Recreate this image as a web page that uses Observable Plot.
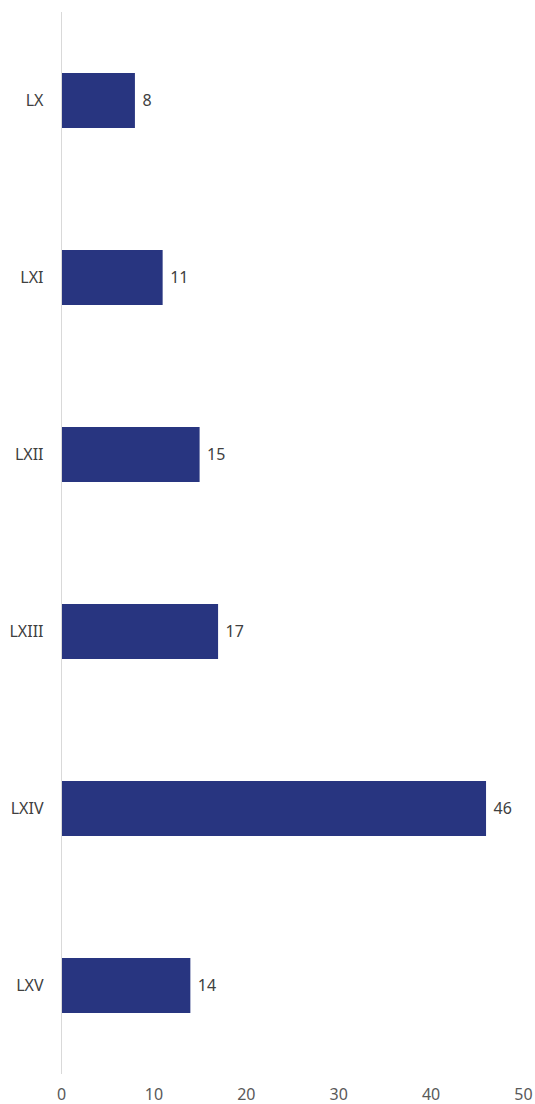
<!DOCTYPE html>
<html>
<head>
<meta charset="utf-8">
<script src="https://cdn.jsdelivr.net/npm/d3@7"></script>
<script src="https://cdn.jsdelivr.net/npm/@observablehq/plot@0.6"></script>
<style>
  html, body { margin: 0; padding: 0; background: #fff; }
  #chart svg { display: block; }
</style>
</head>
<body>
<div id="chart"></div>
<script>
// Categories and their counts
const categories = ["LX", "LXI", "LXII", "LXIII", "LXIV", "LXV"];
const counts = [8, 11, 15, 17, 46, 14];
const xTicks = [0, 10, 20, 30, 40, 50];

const data = categories.map((c, i) => ({category: c, value: counts[i]}));

const chart = Plot.plot({
  width: 535,
  height: 1104,
  marginLeft: 61,
  marginRight: 12,
  marginTop: 12,
  marginBottom: 30,
  style: {fontFamily: "'Noto Sans', sans-serif", fontSize: "16px", color: "#595959", background: "#fff"},
  x: {domain: [0, 50], ticks: xTicks, tickSize: 0, tickPadding: 14, label: null},
  y: {domain: categories, paddingInner: 0.69, paddingOuter: 0.345, tickSize: 0, tickPadding: 18, label: null},
  marks: [
    Plot.barX(data, {x: "value", y: "category", fill: "#283580"}),
    Plot.ruleX([0], {stroke: "#d9d9d9", strokeWidth: 1}),
    Plot.text(data, {x: "value", y: "category", text: d => String(d.value), textAnchor: "start", dx: 7, fill: "#404040", fontSize: 16}),
    Plot.axisX({ticks: xTicks, tickSize: 0, tickPadding: 14, label: null, fill: "#595959", fontSize: 16}),
    Plot.axisY({tickSize: 0, tickPadding: 18, label: null, fill: "#404040", fontSize: 16})
  ]
});
document.getElementById("chart").appendChild(chart);
</script>
</body>
</html>
